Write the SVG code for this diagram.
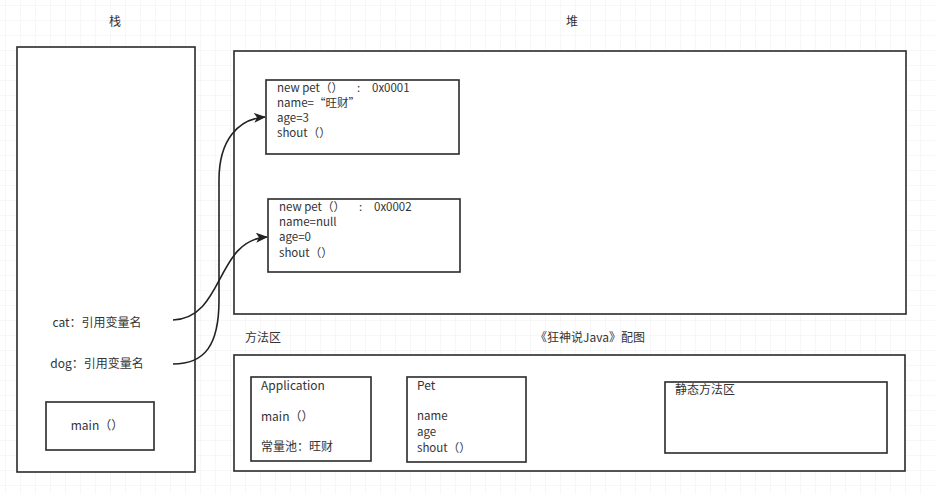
<svg xmlns="http://www.w3.org/2000/svg" width="935" height="494" viewBox="0 0 935 494">
<defs>
<pattern id="grid" width="15" height="15" patternUnits="userSpaceOnUse" x="5" y="5">
<path d="M15,0 L0,0 0,15" fill="none" stroke="#efefef" stroke-width="1"/>
</pattern>
<marker id="arr" markerWidth="12" markerHeight="10" refX="11" refY="5" orient="auto" markerUnits="userSpaceOnUse">
<path d="M0,0 L12,5 L0,10 L3,5 Z" fill="#222"/>
</marker>
<style>
.box{fill:#fff;stroke:#2a2a2a;stroke-width:1.6}
.t{font-family:"Noto Sans CJK SC","Open Sans",sans-serif;font-size:12px;fill:#333}
.s{font-size:11.5px}
.c{stroke:#222;stroke-width:1.6;fill:none;marker-end:url(#arr)}
</style>
</defs>
<rect width="935" height="494" fill="#fff"/>
<rect width="935" height="494" fill="url(#grid)"/>
<g id="title-stack"><text class="t" x="115" y="26" text-anchor="middle">栈</text></g>
<g id="title-heap"><text class="t" x="572" y="26" text-anchor="middle">堆</text></g>
<g id="stack">
<rect class="box" x="17" y="47" width="178" height="425"/>
<text class="t" x="97" y="327" text-anchor="middle">cat：引用变量名</text>
<text class="t" x="97" y="368" text-anchor="middle">dog：引用变量名</text>
</g>
<g id="main-frame">
<rect class="box" x="46" y="402" width="108" height="48"/>
<text class="t" x="97" y="430" text-anchor="middle">main（）</text>
</g>
<g id="heap"><rect class="box" x="234" y="51" width="672" height="263"/></g>
<g id="obj1">
<rect class="box" x="266" y="80" width="193" height="74"/>
<text class="t s" x="277" y="92">new pet（）</text>
<text class="t s" x="357" y="92">:</text>
<text class="t s" x="372" y="92">0x0001</text>
<text class="t s" x="277" y="107">name=“旺财”</text>
<text class="t s" x="277" y="122">age=3</text>
<text class="t s" x="277" y="137">shout（）</text>
</g>
<g id="obj2">
<rect class="box" x="268" y="199" width="192" height="73"/>
<text class="t s" x="279" y="211">new pet（）</text>
<text class="t s" x="359" y="211">:</text>
<text class="t s" x="374" y="211">0x0002</text>
<text class="t s" x="279" y="226">name=null</text>
<text class="t s" x="279" y="241">age=0</text>
<text class="t s" x="279" y="257">shout（）</text>
</g>
<g id="label-method"><text class="t" x="245" y="342">方法区</text></g>
<g id="label-caption"><text class="t" x="590" y="342" text-anchor="middle">《狂神说Java》配图</text></g>
<g id="method-area"><rect class="box" x="234" y="355" width="671" height="116"/></g>
<g id="application">
<rect class="box" x="251" y="377" width="120" height="84"/>
<text class="t" x="261" y="390">Application</text>
<text class="t" x="261" y="421">main（）</text>
<text class="t" x="261" y="451">常量池：旺财</text>
</g>
<g id="pet">
<rect class="box" x="407" y="377" width="119" height="85"/>
<text class="t" x="417" y="390">Pet</text>
<text class="t s" x="417" y="420">name</text>
<text class="t s" x="417" y="436">age</text>
<text class="t s" x="417" y="452">shout（）</text>
</g>
<g id="static-area">
<rect class="box" x="665" y="382" width="222" height="71"/>
<text class="t" x="675" y="394">静态方法区</text>
</g>
<g id="connectors">
<path class="c" d="M173,364 C205,364 219,345 219,300 L219,180 C219,140 238,119 265,117"/>
<path class="c" d="M173,320 C225,318 215,240 267,237"/>
</g>
</svg>
